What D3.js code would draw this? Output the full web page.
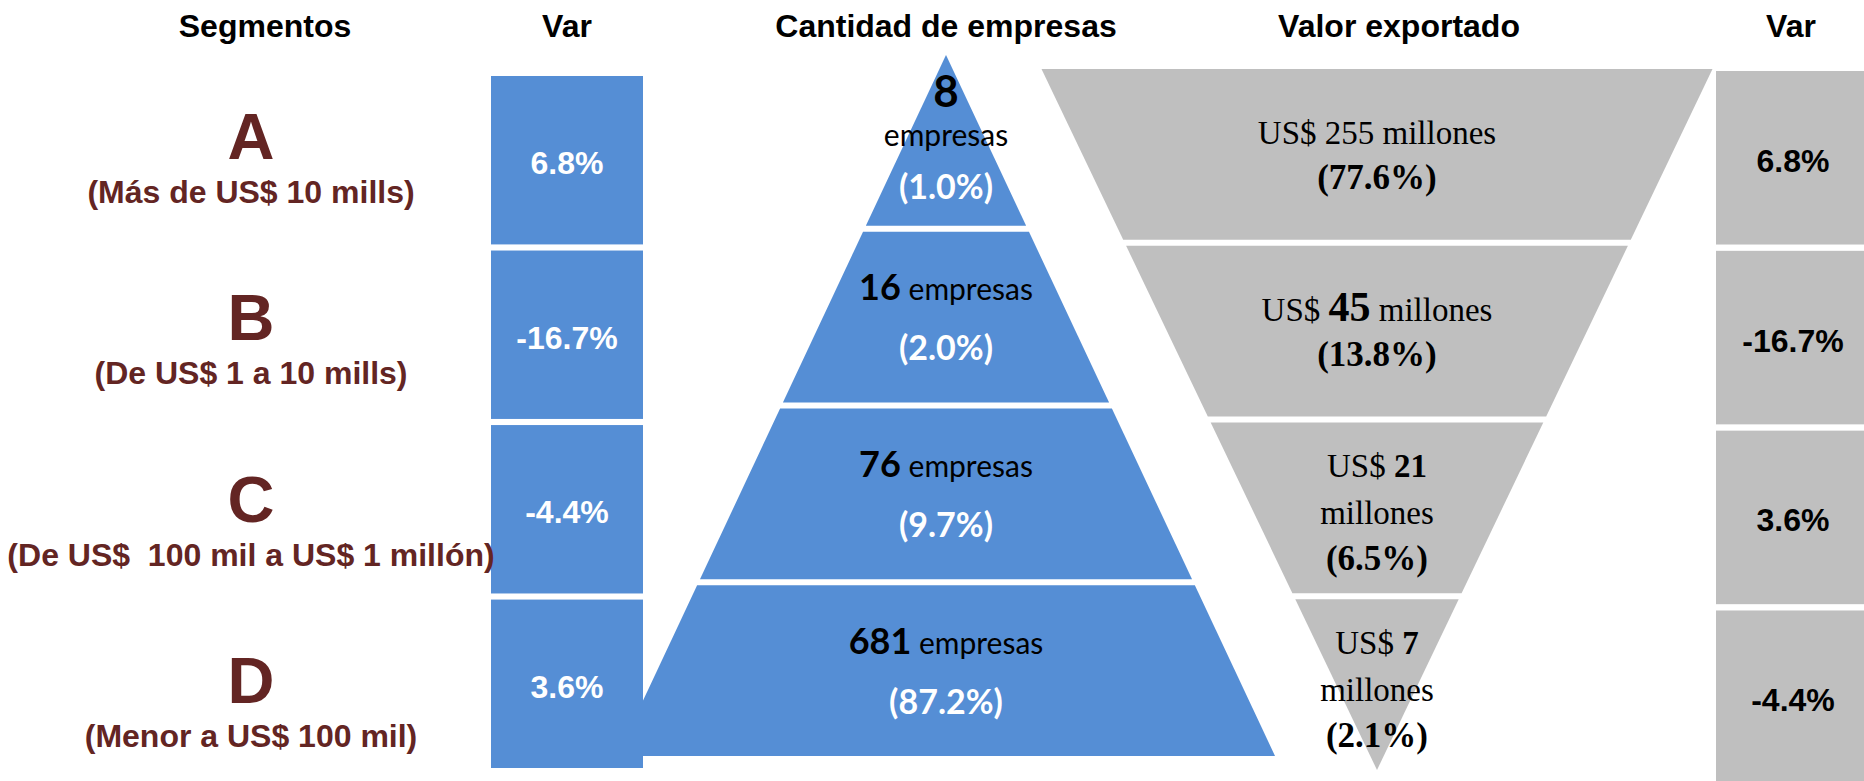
<!DOCTYPE html>
<html>
<head>
<meta charset="utf-8">
<script src="https://cdn.jsdelivr.net/npm/d3@7"></script>
<style>
  html, body { margin: 0; padding: 0; background: #fff; }
  svg { display: block; }
</style>
</head>
<body>
<div id="chart"></div>
<script>
// datos por segmento
const segmentos = ['A', 'B', 'C', 'D'];
const rangos = ['(Más de US$ 10 mills)', '(De US$ 1 a 10 mills)', '(De US$  100 mil a US$ 1 millón)', '(Menor a US$ 100 mil)'];
const empresas = [8, 16, 76, 681];
const empresasPct = [1.0, 2.0, 9.7, 87.2];
const varEmpresas = [6.8, -16.7, -4.4, 3.6];
const valorMillones = [255, 45, 21, 7];
const valorPct = [77.6, 13.8, 6.5, 2.1];
const varValor = [6.8, -16.7, 3.6, -4.4];
const encabezados = ['Segmentos', 'Var', 'Cantidad de empresas', 'Valor exportado', 'Var'];

const width = 1864, height = 781;
const blue = '#558ed5', grey = '#bfbfbf', maroon = '#632523';
const sans = '"Liberation Sans", Arial, sans-serif';
const calibri = 'Lato, "Noto Sans", sans-serif';
const serif = '"Liberation Serif", "Times New Roman", serif';

// formato con guion normal
const fmt = d3.formatLocale({decimal: '.', thousands: ',', grouping: [3], currency: ['', ''], minus: '-'}).format('.1f');

const svg = d3.select('#chart')
    .append('svg')
    .attr('width', width)
    .attr('height', height);

svg.append('rect').attr('width', width).attr('height', height).attr('fill', '#fff');

// encabezados
const headX = [265, 567, 946, 1399, 1791];
svg.append('g')
    .selectAll('text')
    .data(encabezados)
    .join('text')
    .attr('x', (d, i) => headX[i])
    .attr('y', 37)
    .attr('text-anchor', 'middle')
    .style('font-family', sans)
    .style('font-weight', 'bold')
    .style('font-size', '32px')
    .attr('fill', '#000')
    .text(d => d);

// ---- piramide: cantidad de empresas ----
const pyrCx = 946;
const pyrY = d3.scaleBand().domain(segmentos).range([55, 756]).paddingInner(0.034);
const pyrW = d3.scaleLinear().domain([55, 756]).range([0, 329]);

const trapecio = (cx, y0, y1, w) => {
    const p = d3.path();
    p.moveTo(cx - w(y0), y0);
    p.lineTo(cx + w(y0), y0);
    p.lineTo(cx + w(y1), y1);
    p.lineTo(cx - w(y1), y1);
    p.closePath();
    return p.toString();
};

svg.append('g')
    .selectAll('path')
    .data(segmentos)
    .join('path')
    .attr('d', s => trapecio(pyrCx, pyrY(s), pyrY(s) + pyrY.bandwidth(), pyrW))
    .attr('fill', blue);

// ---- columna Var izquierda ----
const varLY = d3.scaleBand().domain(segmentos).range([76, 768]).paddingInner(0.035);
const varLX = [491, 643];
const varL = svg.append('g');
varL.selectAll('rect')
    .data(segmentos)
    .join('rect')
    .attr('x', varLX[0])
    .attr('width', varLX[1] - varLX[0])
    .attr('y', s => varLY(s))
    .attr('height', varLY.bandwidth())
    .attr('fill', blue);
varL.selectAll('text')
    .data(varEmpresas)
    .join('text')
    .attr('x', (varLX[0] + varLX[1]) / 2)
    .attr('y', (d, i) => varLY(segmentos[i]) + varLY.bandwidth() / 2 + 14)
    .attr('text-anchor', 'middle')
    .style('font-family', sans)
    .style('font-weight', 'bold')
    .style('font-size', '32px')
    .attr('fill', '#fff')
    .text(d => fmt(d) + '%');

// textos de la piramide
const pyrText = svg.append('g').attr('text-anchor', 'middle');
segmentos.forEach((s, i) => {
    const cy = pyrY(s) + pyrY.bandwidth() / 2;
    if (i === 0) {
        pyrText.append('text')
            .attr('x', pyrCx).attr('y', cy - 33)
            .style('font-family', calibri).style('font-weight', 'bold').style('font-size', '44px')
            .text(empresas[i]);
        pyrText.append('text')
            .attr('x', pyrCx).attr('y', cy + 6)
            .style('font-family', calibri).style('font-size', '30px')
            .text('empresas');
        pyrText.append('text')
            .attr('x', pyrCx).attr('y', cy + 59)
            .style('font-family', calibri).style('font-weight', 'bold').style('font-size', '34px')
            .attr('fill', '#fff')
            .text(`(${fmt(empresasPct[i])}%)`);
    } else {
        const t = pyrText.append('text')
            .attr('x', pyrCx).attr('y', cy - 17)
            .style('font-family', calibri);
        t.append('tspan').style('font-weight', 'bold').style('font-size', '36px').text(empresas[i]);
        t.append('tspan').style('font-size', '30px').text(' empresas');
        pyrText.append('text')
            .attr('x', pyrCx).attr('y', cy + 43)
            .style('font-family', calibri).style('font-weight', 'bold').style('font-size', '34px')
            .attr('fill', '#fff')
            .text(`(${fmt(empresasPct[i])}%)`);
    }
});

// ---- embudo: valor exportado ----
const funCx = 1377;
const funY = d3.scaleBand().domain(segmentos).range([69, 770]).paddingInner(0.034);
const funW = d3.scaleLinear().domain([69, 770]).range([335.5, 0]);

svg.append('g')
    .selectAll('path')
    .data(segmentos)
    .join('path')
    .attr('d', s => trapecio(funCx, funY(s), funY(s) + funY.bandwidth(), funW))
    .attr('fill', grey);

const funText = svg.append('g')
    .attr('text-anchor', 'middle')
    .style('font-family', serif)
    .attr('fill', '#000');
segmentos.forEach((s, i) => {
    const cy = funY(s) + funY.bandwidth() / 2;
    const pct = `(${fmt(valorPct[i])}%)`;
    if (i < 2) {
        const t = funText.append('text').attr('x', funCx).attr('y', cy - 10).style('font-size', '33px');
        t.append('tspan').text('US$ ');
        const n = t.append('tspan').text(valorMillones[i]);
        if (i === 1) n.style('font-weight', 'bold').style('font-size', '42px');
        t.append('tspan').text(' millones');
        funText.append('text').attr('x', funCx).attr('y', cy + 35)
            .style('font-size', '35px').style('font-weight', 'bold').text(pct);
    } else {
        const t = funText.append('text').attr('x', funCx).attr('y', cy - 31).style('font-size', '33px');
        t.append('tspan').text('US$ ');
        t.append('tspan').style('font-weight', 'bold').text(valorMillones[i]);
        funText.append('text').attr('x', funCx).attr('y', cy + 16)
            .style('font-size', '33px').text('millones');
        funText.append('text').attr('x', funCx).attr('y', cy + 62)
            .style('font-size', '35px').style('font-weight', 'bold').text(pct);
    }
});

// ---- columna Var derecha ----
const varRY = d3.scaleBand().domain(segmentos).range([71, 784]).paddingInner(0.035);
const varRX = [1716, 1868];
const varR = svg.append('g');
varR.selectAll('rect')
    .data(segmentos)
    .join('rect')
    .attr('x', varRX[0])
    .attr('width', varRX[1] - varRX[0])
    .attr('y', s => varRY(s))
    .attr('height', varRY.bandwidth())
    .attr('fill', grey);
varR.selectAll('text')
    .data(varValor)
    .join('text')
    .attr('x', 1793)
    .attr('y', (d, i) => varRY(segmentos[i]) + varRY.bandwidth() / 2 + 14)
    .attr('text-anchor', 'middle')
    .style('font-family', sans)
    .style('font-weight', 'bold')
    .style('font-size', '32px')
    .attr('fill', '#000')
    .text(d => fmt(d) + '%');

// ---- etiquetas de segmentos ----
const segX = 251;
const segY = d3.scalePoint().domain(segmentos).range([159, 703]);
const seg = svg.append('g')
    .attr('text-anchor', 'middle')
    .style('font-family', sans)
    .style('font-weight', 'bold')
    .attr('fill', maroon);
seg.selectAll('text.letra')
    .data(segmentos)
    .join('text')
    .attr('class', 'letra')
    .attr('x', segX)
    .attr('y', s => segY(s))
    .style('font-size', '65px')
    .text(s => s);
seg.selectAll('text.rango')
    .data(rangos)
    .join('text')
    .attr('class', 'rango')
    .attr('x', segX)
    .attr('y', (d, i) => segY(segmentos[i]) + 44)
    .style('font-size', '32px')
    .style('white-space', 'pre')
    .text(d => d);
</script>
</body>
</html>
